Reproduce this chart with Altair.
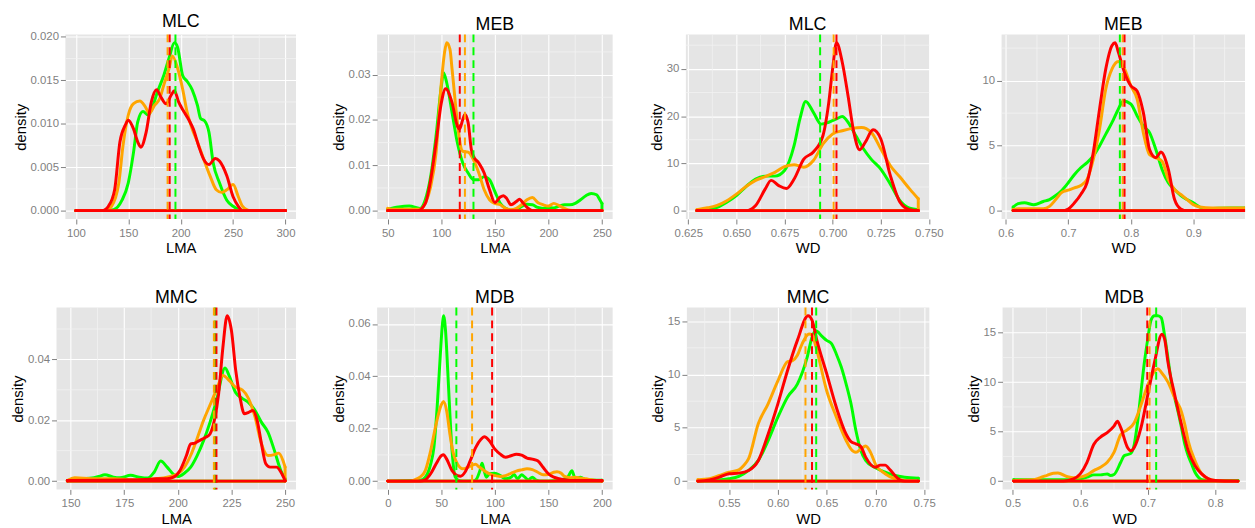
import altair as alt
import pandas as pd

FONT = "Liberation Sans"
GREEN, ORANGE, RED = "#00FF00", "#FFA500", "#FF0000"
BG = "#E5E5E5"
MINOR = "#F2F2F2"
GREY = "#7F7F7F"

# ---------------- Panel 1 : MLC / LMA ----------------
P1_GX = [100, 130, 136, 144, 150, 155, 159, 164, 169, 172, 178, 184, 189, 194, 197, 202, 206, 211, 216, 219, 223, 227, 231, 237, 244, 250, 256, 262, 300]
P1_GY = [0, 0, 0.0001, 0.0012, 0.0032, 0.0067, 0.0102, 0.0114, 0.0110, 0.0116, 0.0137, 0.0156, 0.0176, 0.0193, 0.0188, 0.0155, 0.0149, 0.0139, 0.0121, 0.0106, 0.0103, 0.0090, 0.0055, 0.0032, 0.0012, 0.0005, 0.0001, 0, 0]
P1_OX = [100, 128, 134, 141, 145, 150, 155, 161, 166, 170, 175, 180, 184, 189, 192, 197, 202, 206, 211, 216, 222, 228, 234, 239, 244, 250, 255, 259, 266, 300]
P1_OY = [0, 0, 0.0005, 0.0032, 0.0075, 0.0110, 0.0123, 0.0126, 0.0120, 0.0112, 0.0121, 0.0129, 0.0145, 0.0164, 0.0178, 0.0164, 0.0139, 0.0114, 0.0094, 0.0079, 0.0059, 0.0040, 0.0024, 0.0021, 0.0024, 0.0030, 0.0016, 0.0005, 0, 0]
P1_RX = [100, 125, 131, 137, 142, 147, 150, 155, 159, 162, 167, 172, 177, 181, 186, 191, 194, 198, 203, 208, 212, 217, 222, 227, 233, 237, 244, 250, 255, 259, 300]
P1_RY = [0, 0, 0.0005, 0.0024, 0.0079, 0.0098, 0.0104, 0.0094, 0.0079, 0.0073, 0.0090, 0.0125, 0.0139, 0.0131, 0.0123, 0.0133, 0.0138, 0.0125, 0.0114, 0.0104, 0.0094, 0.0075, 0.0059, 0.0053, 0.0060, 0.0057, 0.0040, 0.0016, 0.0005, 0, 0]
P1_MEANS = [195, 187.5, 189.5]
P1_XMAJ = [100, 150, 200, 250, 300]
P1_XMIN = [75, 125, 175, 225, 275, 325]
P1_YMAJ = [0, 0.005, 0.010, 0.015, 0.020]
P1_YMIN = [0.0025, 0.0075, 0.0125, 0.0175]

# ---------------- Panel 2 : MEB / LMA ----------------
P2_GX = [50, 60, 70, 80, 85, 90, 95, 100, 102, 105, 110, 115, 120, 125, 130, 135, 140, 145, 150, 155, 160, 165, 170, 175, 180, 185, 190, 195, 200, 205, 210, 215, 220, 225, 230, 235, 240, 245, 248, 250]
P2_GY = [0.0003, 0.0008, 0.0010, 0.0005, 0.0024, 0.0075, 0.0164, 0.0275, 0.0304, 0.0282, 0.0216, 0.0149, 0.0105, 0.0083, 0.0068, 0.0068, 0.0075, 0.0068, 0.0042, 0.0016, 0.0005, 0.0001, 0.0002, 0.0009, 0.0014, 0.0013, 0.0007, 0.0005, 0.0007, 0.0006, 0.0010, 0.0013, 0.0013, 0.0016, 0.0024, 0.0033, 0.0038, 0.0035, 0.0024, 0.0016]
P2_OX = [50, 55, 65, 75, 80, 85, 90, 95, 100, 103, 105, 108, 110, 115, 118, 120, 125, 130, 135, 140, 145, 150, 155, 160, 165, 170, 175, 180, 185, 190, 195, 200, 205, 210, 215, 220, 225, 250]
P2_OY = [0.0005, 0.0003, 0.0003, 0.0003, 0.0003, 0.0016, 0.0053, 0.0127, 0.0282, 0.0349, 0.0370, 0.0356, 0.0312, 0.0194, 0.0142, 0.0131, 0.0129, 0.0112, 0.0083, 0.0046, 0.0024, 0.0016, 0.0013, 0.0005, 0.0002, 0.0005, 0.0013, 0.0024, 0.0029, 0.0018, 0.0013, 0.0010, 0.0016, 0.0011, 0.0005, 0.0001, 0, 0]
P2_RX = [50, 78, 85, 90, 95, 100, 104, 110, 115, 117, 120, 122, 125, 128, 130, 135, 140, 145, 150, 155, 158, 161, 165, 170, 173, 176, 180, 185, 250]
P2_RY = [0, 0, 0.0016, 0.0068, 0.0149, 0.0238, 0.0269, 0.0238, 0.0186, 0.0180, 0.0201, 0.0212, 0.0194, 0.0135, 0.0120, 0.0105, 0.0083, 0.0046, 0.0018, 0.0030, 0.0033, 0.0027, 0.0013, 0.0020, 0.0025, 0.0018, 0.0007, 0, 0]
P2_MEANS = [130, 122, 117.2]
P2_XMAJ = [50, 100, 150, 200, 250]
P2_XMIN = [25, 75, 125, 175, 225, 275]
P2_YMAJ = [0, 0.01, 0.02, 0.03]
P2_YMIN = [0.005, 0.015, 0.025, 0.035]

# ---------------- Panel 3 : MLC / WD ----------------
P3_GX = [0.6295, 0.635, 0.64, 0.645, 0.65, 0.655, 0.66, 0.665, 0.67, 0.675, 0.68, 0.683, 0.686, 0.69, 0.694, 0.698, 0.702, 0.705, 0.708, 0.712, 0.716, 0.72, 0.725, 0.73, 0.735, 0.74, 0.7445]
P3_GY = [0, 0.15, 0.7, 1.8, 3.2, 5.1, 6.7, 7.3, 7.3, 8.5, 13.8, 19.4, 23.1, 20.8, 18.3, 18.7, 19.4, 19.9, 18.7, 15.9, 13.1, 10.9, 8.8, 5.6, 2.1, 0.5, 0.2]
P3_OX = [0.6295, 0.635, 0.64, 0.645, 0.65, 0.655, 0.66, 0.665, 0.67, 0.675, 0.68, 0.685, 0.69, 0.695, 0.70, 0.705, 0.71, 0.715, 0.72, 0.725, 0.73, 0.735, 0.74, 0.7445]
P3_OY = [0.2, 0.6, 1.1, 2.1, 3.5, 5.1, 6.4, 7.2, 8.1, 9.3, 9.7, 9.2, 10.6, 14.1, 16.2, 16.9, 17.4, 17.6, 16.6, 13.1, 9.5, 7.1, 4.6, 2.5]
P3_RX = [0.6295, 0.655, 0.66, 0.665, 0.668, 0.672, 0.676, 0.68, 0.685, 0.69, 0.695, 0.698, 0.70, 0.702, 0.705, 0.708, 0.711, 0.714, 0.717, 0.721, 0.725, 0.73, 0.735, 0.74, 0.7445]
P3_RY = [0, 0, 1.1, 4.6, 6.4, 5.3, 4.7, 6.7, 10.9, 12.4, 15.9, 22.9, 30.0, 35.5, 31.4, 24.3, 16.6, 12.9, 14.5, 17.1, 15.2, 7.4, 1.8, 0.2, 0]
P3_MEANS = [0.6935, 0.7005, 0.702]
P3_XMAJ = [0.625, 0.650, 0.675, 0.700, 0.725, 0.750]
P3_XMIN = [0.6375, 0.6625, 0.6875, 0.7125, 0.7375]
P3_YMAJ = [0, 10, 20, 30]
P3_YMIN = [5, 15, 25, 35]

# ---------------- Panel 4 : MEB / WD ----------------
P4_GX = [0.612, 0.62, 0.63, 0.645, 0.66, 0.67, 0.68, 0.69, 0.70, 0.71, 0.72, 0.73, 0.74, 0.75, 0.76, 0.77, 0.78, 0.788, 0.80, 0.81, 0.82, 0.83, 0.84, 0.85, 0.86, 0.87, 0.88, 0.89, 0.90, 0.91, 0.92, 0.94, 0.96, 0.984]
P4_GY = [0.28, 0.54, 0.6, 0.46, 0.7, 0.85, 1.16, 1.57, 2.14, 2.78, 3.3, 3.69, 4.2, 4.97, 5.88, 6.78, 7.8, 8.43, 8.2, 7.3, 6.5, 6.0, 4.7, 3.17, 2.14, 1.62, 1.16, 0.85, 0.6, 0.28, 0.13, 0.18, 0.2, 0.2]
P4_OX = [0.612, 0.62, 0.66, 0.67, 0.68, 0.69, 0.70, 0.71, 0.72, 0.73, 0.74, 0.75, 0.76, 0.77, 0.78, 0.79, 0.80, 0.81, 0.82, 0.83, 0.84, 0.85, 0.86, 0.87, 0.88, 0.89, 0.90, 0.91, 0.93, 0.96, 0.984]
P4_OY = [0.08, 0.15, 0.15, 0.33, 0.85, 1.42, 1.57, 1.75, 1.93, 2.4, 3.94, 6.26, 9.36, 10.9, 11.47, 10.9, 9.6, 8.6, 6.0, 4.3, 4.07, 3.8, 2.4, 1.62, 1.24, 0.85, 0.46, 0.28, 0.2, 0.2, 0.2]
P4_RX = [0.612, 0.69, 0.70, 0.71, 0.72, 0.73, 0.74, 0.75, 0.76, 0.77, 0.775, 0.78, 0.79, 0.80, 0.81, 0.82, 0.83, 0.84, 0.848, 0.86, 0.87, 0.88, 0.89, 0.984]
P4_RY = [0, 0, 0.13, 0.6, 1.24, 2.14, 4.46, 7.8, 10.9, 12.7, 12.9, 12.2, 10.6, 9.6, 9.2, 7.55, 4.7, 4.07, 4.5, 3.17, 0.85, 0.13, 0, 0]
P4_MEANS = [0.7825, 0.787, 0.790]
P4_XMAJ = [0.6, 0.7, 0.8, 0.9]
P4_XMIN = [0.55, 0.65, 0.75, 0.85, 0.95]
P4_YMAJ = [0, 5, 10]
P4_YMIN = [2.5, 7.5, 12.5]

# ---------------- Panel 5 : MMC / LMA ----------------
P5_GX = [148.5, 155, 160, 163, 166, 170, 173, 178, 182, 186, 189, 192, 195, 198, 200, 203, 206, 209, 212, 215, 218, 222, 224, 227, 230, 233, 236, 239, 242, 245, 248, 250]
P5_GY = [0.0002, 0.0008, 0.0010, 0.0015, 0.0021, 0.0013, 0.0011, 0.0019, 0.0013, 0.0010, 0.0030, 0.0066, 0.0046, 0.0022, 0.0015, 0.0026, 0.0046, 0.0084, 0.0133, 0.0193, 0.0264, 0.0372, 0.0345, 0.0290, 0.0272, 0.0258, 0.0232, 0.0193, 0.0161, 0.0101, 0.0035, 0.0008]
P5_OX = [148.5, 152, 160, 170, 180, 190, 195, 200, 203, 206, 209, 212, 215, 218, 221, 224, 227, 230, 233, 236, 239, 242, 245, 247, 249, 250]
P5_OY = [0.0002, 0.0011, 0.0008, 0.0008, 0.0004, 0.0008, 0.0013, 0.0024, 0.0045, 0.0085, 0.0140, 0.0200, 0.0250, 0.0300, 0.0347, 0.0330, 0.0308, 0.0300, 0.0270, 0.0210, 0.0122, 0.0084, 0.0087, 0.0092, 0.0068, 0.0046]
P5_RX = [148.5, 185, 190, 195, 198, 201, 204, 206, 208, 210, 213, 215, 217, 219, 221, 223, 225, 227, 229, 231, 233, 235, 237, 239, 241, 243, 246, 248, 250]
P5_RY = [0.0002, 0.0005, 0.0008, 0.0008, 0.0013, 0.0035, 0.0084, 0.0122, 0.0125, 0.0133, 0.0144, 0.0155, 0.0199, 0.0286, 0.0439, 0.0543, 0.0494, 0.0363, 0.0275, 0.0221, 0.0226, 0.0232, 0.0199, 0.0122, 0.0057, 0.0046, 0.0046, 0.0030, 0.0002]
P5_MEANS = [217.3, 216.8, 218.0]
P5_XMAJ = [150, 175, 200, 225, 250]
P5_XMIN = [137.5, 162.5, 187.5, 212.5, 237.5]
P5_YMAJ = [0, 0.02, 0.04]
P5_YMIN = [0.01, 0.03, 0.05]

# ---------------- Panel 6 : MDB / LMA ----------------
P6_GX = [0, 30, 35, 40, 43, 46, 49, 51, 52, 54, 56, 58, 60, 63, 66, 70, 80, 83, 86, 88, 90, 92, 95, 100, 105, 110, 115, 118, 121, 125, 128, 131, 135, 138, 142, 150, 160, 168, 172, 175, 180, 185, 200]
P6_GY = [0, 0.0003, 0.0015, 0.0065, 0.0128, 0.0279, 0.0480, 0.0600, 0.0631, 0.0569, 0.0418, 0.0254, 0.0116, 0.0015, 0.0003, 0, 0, 0.0009, 0.0040, 0.0068, 0.0040, 0.0015, 0.0028, 0.0030, 0.0021, 0.0009, 0.0015, 0.0025, 0.0009, 0.0024, 0.0015, 0.0005, 0.0015, 0.0005, 0, 0, 0.0003, 0.0015, 0.0040, 0.0009, 0.0015, 0.0005, 0.0003]
P6_OX = [0, 20, 25, 30, 35, 40, 45, 50, 52, 55, 58, 60, 65, 70, 75, 82, 85, 90, 95, 100, 105, 110, 115, 120, 125, 130, 135, 140, 145, 150, 155, 158, 162, 165, 170, 175, 180, 185, 190, 195, 200]
P6_OY = [0, 0, 0.0005, 0.0015, 0.0040, 0.0116, 0.0216, 0.0292, 0.0304, 0.0267, 0.0179, 0.0128, 0.0065, 0.0047, 0.0053, 0.0064, 0.0055, 0.0040, 0.0028, 0.0021, 0.0018, 0.0021, 0.0030, 0.0038, 0.0043, 0.0047, 0.0044, 0.0034, 0.0024, 0.0025, 0.0034, 0.0036, 0.0030, 0.0018, 0.0013, 0.0015, 0.0011, 0.0009, 0.0005, 0.0002, 0.0001]
P6_RX = [0, 30, 35, 40, 45, 50, 52, 55, 60, 65, 68, 72, 77, 82, 87, 90, 95, 100, 105, 110, 115, 120, 125, 130, 135, 140, 145, 150, 155, 160, 165, 170, 200]
P6_RY = [0, 0, 0.0005, 0.0028, 0.0065, 0.0097, 0.0101, 0.0084, 0.0040, 0.0021, 0.0019, 0.0034, 0.0078, 0.0128, 0.0160, 0.0169, 0.0153, 0.0122, 0.0103, 0.0091, 0.0097, 0.0103, 0.0099, 0.0088, 0.0084, 0.0078, 0.0053, 0.0028, 0.0015, 0.0009, 0.0005, 0.0002, 0.0002]
P6_MEANS = [64, 78.7, 97.4]
P6_XMAJ = [0, 50, 100, 150, 200]
P6_XMIN = [-25, 25, 75, 125, 175, 225]
P6_YMAJ = [0, 0.02, 0.04, 0.06]
P6_YMIN = [0.01, 0.03, 0.05]

# ---------------- Panel 7 : MMC / WD ----------------
P7_GX = [0.518, 0.53, 0.54, 0.55, 0.56, 0.57, 0.58, 0.59, 0.60, 0.61, 0.62, 0.63, 0.635, 0.639, 0.645, 0.65, 0.655, 0.66, 0.665, 0.67, 0.675, 0.68, 0.685, 0.69, 0.70, 0.71, 0.72, 0.73, 0.744]
P7_GY = [0, 0.06, 0.12, 0.22, 0.44, 1.0, 1.94, 3.8, 6.0, 7.9, 9.1, 11.6, 13.5, 14.1, 13.6, 13.2, 12.9, 11.9, 10.7, 9.1, 7.25, 4.75, 2.9, 1.94, 1.25, 0.84, 0.53, 0.37, 0.28]
P7_OX = [0.518, 0.53, 0.54, 0.55, 0.56, 0.565, 0.57, 0.58, 0.59, 0.60, 0.61, 0.615, 0.62, 0.625, 0.632, 0.635, 0.64, 0.65, 0.66, 0.67, 0.675, 0.68, 0.685, 0.69, 0.695, 0.70, 0.71, 0.72, 0.73, 0.744]
P7_OY = [0.12, 0.22, 0.53, 0.84, 1.06, 1.47, 2.1, 5.4, 7.25, 9.4, 11.2, 11.3, 11.8, 12.9, 13.8, 13.7, 12.25, 8.5, 6.0, 3.8, 3.0, 2.7, 3.0, 3.3, 2.7, 1.6, 0.69, 0.22, 0.06, 0]
P7_RX = [0.518, 0.53, 0.54, 0.55, 0.56, 0.57, 0.58, 0.59, 0.60, 0.61, 0.62, 0.631, 0.635, 0.64, 0.65, 0.66, 0.67, 0.675, 0.68, 0.685, 0.69, 0.70, 0.705, 0.71, 0.715, 0.72, 0.725, 0.73, 0.744]
P7_RY = [0, 0.12, 0.37, 0.69, 0.75, 1.0, 1.94, 4.4, 7.25, 10.4, 13.2, 15.5, 15.1, 13.2, 10.1, 6.9, 4.4, 3.7, 3.5, 3.25, 2.25, 1.3, 1.5, 1.5, 1.06, 0.53, 0.12, 0, 0]
P7_MEANS = [0.6393, 0.6283, 0.635]
P7_XMAJ = [0.55, 0.60, 0.65, 0.70, 0.75]
P7_XMIN = [0.525, 0.575, 0.625, 0.675, 0.725]
P7_YMAJ = [0, 5, 10, 15]
P7_YMIN = [2.5, 7.5, 12.5]

# ---------------- Panel 8 : MDB / WD ----------------
P8_GX = [0.5015, 0.58, 0.60, 0.61, 0.62, 0.63, 0.64, 0.645, 0.65, 0.66, 0.665, 0.675, 0.68, 0.685, 0.69, 0.695, 0.70, 0.705, 0.71, 0.715, 0.72, 0.725, 0.73, 0.735, 0.74, 0.745, 0.75, 0.755, 0.76, 0.765, 0.77, 0.775, 0.78, 0.79, 0.8336]
P8_GY = [0.13, 0.13, 0.23, 0.4, 0.63, 0.63, 0.73, 0.56, 0.66, 1.9, 2.56, 2.8, 3.7, 6.0, 9.0, 12.0, 14.35, 16.3, 16.7, 16.7, 16.5, 14.7, 12.4, 10.0, 8.4, 7.0, 5.4, 3.7, 2.56, 1.73, 0.9, 0.4, 0.13, 0.07, 0.07]
P8_OX = [0.5015, 0.53, 0.54, 0.55, 0.56, 0.567, 0.58, 0.59, 0.60, 0.61, 0.62, 0.63, 0.64, 0.65, 0.66, 0.67, 0.68, 0.69, 0.70, 0.71, 0.715, 0.72, 0.73, 0.74, 0.75, 0.755, 0.76, 0.77, 0.78, 0.79, 0.80, 0.8336]
P8_OY = [0.07, 0.13, 0.33, 0.56, 0.8, 0.82, 0.47, 0.33, 0.4, 0.63, 1.06, 1.4, 1.9, 2.9, 4.7, 5.2, 5.9, 7.7, 9.7, 11.1, 11.36, 11.0, 10.0, 8.4, 7.0, 5.7, 4.05, 2.06, 0.73, 0.23, 0.07, 0]
P8_RX = [0.5015, 0.575, 0.59, 0.60, 0.61, 0.62, 0.63, 0.64, 0.65, 0.655, 0.66, 0.67, 0.675, 0.68, 0.69, 0.70, 0.71, 0.721, 0.725, 0.73, 0.74, 0.75, 0.76, 0.77, 0.78, 0.79, 0.80, 0.8336]
P8_RY = [0, 0, 0.23, 0.73, 1.9, 3.7, 4.45, 4.9, 5.55, 6.05, 5.4, 3.4, 3.06, 3.4, 5.4, 8.7, 12.0, 14.85, 14.35, 12.0, 8.7, 5.7, 3.06, 1.56, 0.73, 0.23, 0.07, 0]
P8_MEANS = [0.7125, 0.7027, 0.6993]
P8_XMAJ = [0.5, 0.6, 0.7, 0.8]
P8_XMIN = [0.45, 0.55, 0.65, 0.75, 0.85]
P8_YMAJ = [0, 5, 10, 15]
P8_YMIN = [2.5, 7.5, 12.5]

COLORS = [GREEN, ORANGE, RED]


def axis(title, values, fmt, label_pad, title_pad):
    return alt.Axis(
        title=title, values=values, format=fmt, grid=True, gridColor="white", gridWidth=1.1,
        domain=False, ticks=True, tickColor=GREY, tickSize=5, tickWidth=1,
        labelColor=GREY, labelFont=FONT, labelFontSize=11.5, labelPadding=label_pad,
        labelFlush=False, labelOverlap=False, labelBound=False,
        titleFont=FONT, titleFontSize=15, titleFontWeight="normal", titleColor="black",
        titlePadding=title_pad,
    )


def panel(title, xtitle, series, means, xmaj, xmin, ymaj, ymin, xfmt, yfmt, width, height, xcut=None):
    allx = [v for xs, _ in series for v in xs]
    ally = [v for _, ys in series for v in ys]
    lo, hi = min(allx), max(allx)
    r = hi - lo
    xdom = [lo - 0.05 * r, (xcut if xcut is not None else hi + 0.05 * r)]
    m = max(ally)
    ydom = [-0.05 * m, 1.05 * m]
    xsc = alt.Scale(domain=xdom, nice=False, zero=False)
    ysc = alt.Scale(domain=ydom, nice=False, zero=False)
    xax = axis(xtitle, xmaj, xfmt, 3.5, 2)
    yax = axis("density", ymaj, yfmt, 2, 2)

    def X(f="x"):
        return alt.X(f + ":Q", scale=xsc, axis=xax)

    def Y(f="y"):
        return alt.Y(f + ":Q", scale=ysc, axis=yax)

    layers = []
    mx = [v for v in xmin if xdom[0] < v < xdom[1]]
    my = [v for v in ymin if ydom[0] < v < ydom[1]]
    layers.append(alt.Chart(pd.DataFrame({"x": mx})).mark_rule(color=MINOR, strokeWidth=0.8).encode(x=X()))
    layers.append(alt.Chart(pd.DataFrame({"y": my})).mark_rule(color=MINOR, strokeWidth=0.8).encode(y=Y()))
    for (xs, ys), c in zip(series, COLORS):
        df = pd.DataFrame({"x": xs, "y": ys})
        layers.append(alt.Chart(df).mark_line(color=c, strokeWidth=3, interpolate="monotone",
                                              strokeCap="round", strokeJoin="round", clip=True).encode(x=X(), y=Y()))
        base = pd.DataFrame({"x": [xs[0]], "x2": [xs[-1]], "y": [0.0]})
        layers.append(alt.Chart(base).mark_rule(color=c, strokeWidth=3, strokeCap="round", clip=True)
                      .encode(x=X(), x2="x2:Q", y=Y()))
        edges = pd.DataFrame({"x": [xs[0], xs[-1]], "y": [0.0, 0.0], "y2": [ys[0], ys[-1]]})
        layers.append(alt.Chart(edges).mark_rule(color=c, strokeWidth=3, strokeCap="round", clip=True)
                      .encode(x=X(), y=Y(), y2="y2:Q"))
    for mval, c in zip(means, COLORS):
        layers.append(alt.Chart(pd.DataFrame({"x": [mval]})).mark_rule(color=c, strokeWidth=2, strokeDash=[8, 5])
                      .encode(x=X()))
    return alt.layer(*layers).properties(
        width=width, height=height,
        title=alt.TitleParams(text=title, font=FONT, fontSize=18, fontWeight="normal", color="black",
                              anchor="middle", frame="group", offset=0),
        view=alt.ViewBackground(fill=BG, strokeWidth=0),
    )


def spacer(w, h):
    return alt.Chart(pd.DataFrame({"a": [0]})).mark_point(opacity=0).encode(
        x=alt.X("a:Q", axis=None), y=alt.Y("a:Q", axis=None)
    ).properties(width=w, height=h)


H1, H2 = 186.5, 183.7

p1 = panel("MLC", "LMA", [(P1_GX, P1_GY), (P1_OX, P1_OY), (P1_RX, P1_RY)], P1_MEANS,
           P1_XMAJ, P1_XMIN, P1_YMAJ, P1_YMIN, "d", ".3f", 233, H1)
p2 = panel("MEB", "LMA", [(P2_GX, P2_GY), (P2_OX, P2_OY), (P2_RX, P2_RY)], P2_MEANS,
           P2_XMAJ, P2_XMIN, P2_YMAJ, P2_YMIN, "d", ".2f", 238, H1)
p3 = panel("MLC", "WD", [(P3_GX, P3_GY), (P3_OX, P3_OY), (P3_RX, P3_RY)], P3_MEANS,
           P3_XMAJ, P3_XMIN, P3_YMAJ, P3_YMIN, ".3f", "d", 246, H1)
p4 = panel("MEB", "WD", [(P4_GX, P4_GY), (P4_OX, P4_OY), (P4_RX, P4_RY)], P4_MEANS,
           P4_XMAJ, P4_XMIN, P4_YMAJ, P4_YMIN, ".1f", "d", 246, H1, xcut=0.9826)
p5 = panel("MMC", "LMA", [(P5_GX, P5_GY), (P5_OX, P5_OY), (P5_RX, P5_RY)], P5_MEANS,
           P5_XMAJ, P5_XMIN, P5_YMAJ, P5_YMIN, "d", ".2f", 242, H2)
p6 = panel("MDB", "LMA", [(P6_GX, P6_GY), (P6_OX, P6_OY), (P6_RX, P6_RY)], P6_MEANS,
           P6_XMAJ, P6_XMIN, P6_YMAJ, P6_YMIN, "d", ".2f", 238, H2)
p7 = panel("MMC", "WD", [(P7_GX, P7_GY), (P7_OX, P7_OY), (P7_RX, P7_RY)], P7_MEANS,
           P7_XMAJ, P7_XMIN, P7_YMAJ, P7_YMIN, ".2f", "d", 245, H2)
p8 = panel("MDB", "WD", [(P8_GX, P8_GY), (P8_OX, P8_OY), (P8_RX, P8_RY)], P8_MEANS,
           P8_XMAJ, P8_XMIN, P8_YMAJ, P8_YMIN, ".1f", "d", 246, H2, xcut=0.8456)

row1 = alt.hconcat(spacer(9, H1), p1, spacer(82, H1), p2, spacer(73.7, H1), p3, spacer(73, H1), p4,
                   spacing=0, bounds="flush")
row2 = alt.hconcat(p5, spacer(81.4, H2), p6, spacer(74.3, H2), p7, spacer(74, H2), p8,
                   spacing=0, bounds="flush")

chart = alt.vconcat(row1, row2, spacing=33, bounds="full").properties(
    padding={"left": 2, "top": 2, "right": 0, "bottom": 0}
).configure_view(strokeWidth=0)

chart.save("out.html", embed_options={"renderer": "svg", "actions": False})
